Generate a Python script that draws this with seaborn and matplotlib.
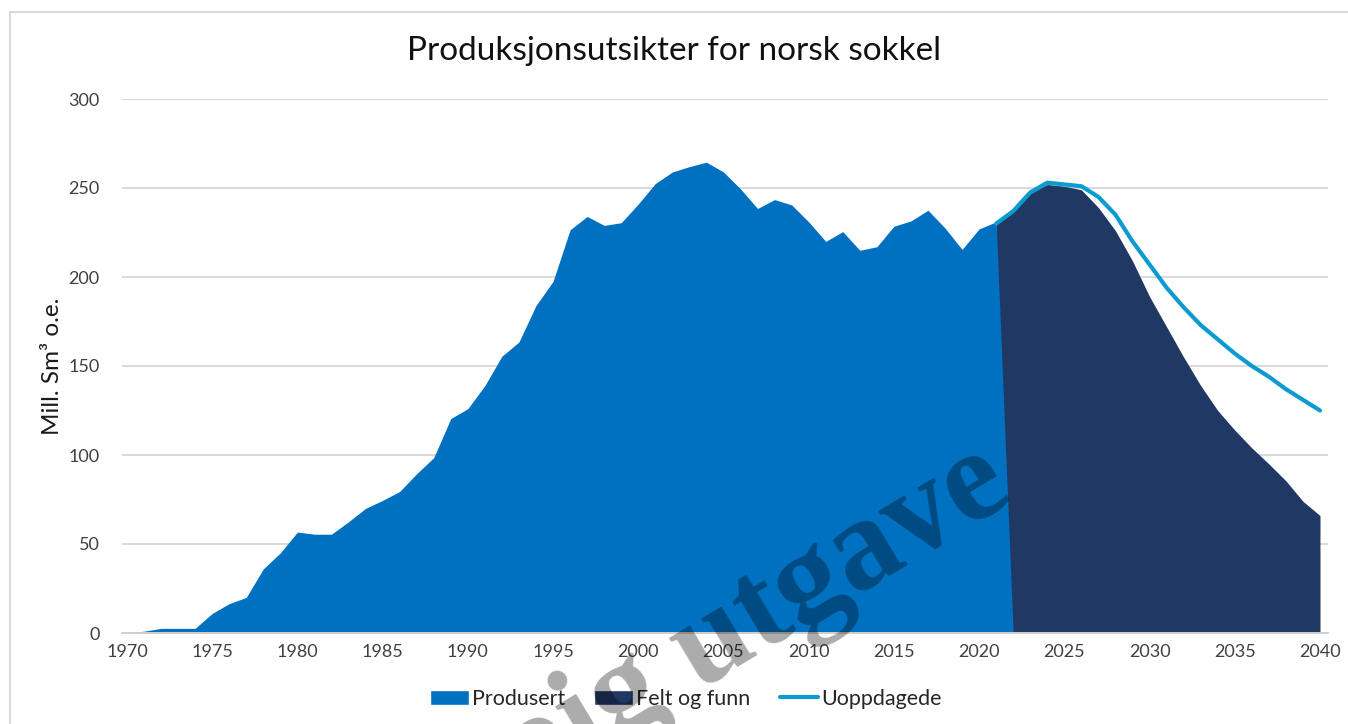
import matplotlib
matplotlib.use("Agg")
import matplotlib.pyplot as plt
from matplotlib.patches import Patch
from matplotlib.lines import Line2D
import numpy as np
import pandas as pd
import seaborn as sns

# data (Mill. Sm3 o.e.)
years_prod = list(range(1970, 2023))
produsert = [0, 1, 2.6, 2.6, 2.6, 11, 16.5, 20, 36, 45,
             56.7, 55.5, 55.5, 62.5, 70, 74.5, 79.5, 89.5, 98.5, 120.5,
             126, 139, 155.5, 163.5, 184, 197.5, 226.5, 234, 229, 230.5,
             241, 252.5, 259, 262, 264.5, 259, 249.5, 238.5, 243.5, 240.5,
             231, 220, 225.5, 215, 217, 228.5, 231.5, 237.5, 227.5, 215.5,
             227, 231, 0]

years_prog = list(range(2021, 2041))
felt_og_funn = [229.5, 237, 247, 252, 251, 249, 239, 226, 209, 189,
                172, 155, 139, 125, 114, 104, 95, 85.5, 74, 66]
uoppdagede = [230, 237, 247.5, 253, 252, 251, 245, 235, 220, 207,
              194, 183, 173, 165, 157, 150, 144, 137, 131, 125]

labels = ["Produsert", "Felt og funn", "Uoppdagede"]
colors = ["#0070c0", "#203864", "#0b9bd0"]

prod_df = pd.DataFrame({"year": years_prod, "value": produsert})
prog_df = pd.DataFrame({"year": years_prog, "felt": felt_og_funn, "uopp": uoppdagede})

sns.set_theme(style="white")
plt.rcParams["font.family"] = ["Lato", "DejaVu Sans"]

fig = plt.figure(figsize=(13.48, 7.24), dpi=100)
ax = fig.add_axes([122 / 1348, 1 - 633 / 724, (1328 - 122) / 1348, (633 - 99) / 724])

# areas: forecast behind, history on top
ax.fill_between(prog_df["year"], 0, prog_df["felt"], color=colors[1], lw=0, zorder=2)
ax.fill_between(prod_df["year"], 0, prod_df["value"], color=colors[0], lw=0, zorder=3)
sns.lineplot(data=prog_df, x="year", y="uopp", ax=ax, color=colors[2], lw=3,
             solid_capstyle="round", zorder=4)

ax.set_xlim(1969.71, 2040.47)
ax.set_ylim(0, 300)
ax.set_xticks(range(1970, 2041, 5))
ax.set_yticks(range(0, 301, 50))
ax.tick_params(axis="both", labelsize=13, colors="#404040", length=0, pad=8)
ax.tick_params(axis="y", pad=16)
ax.grid(axis="y", color="#d9d9d9", lw=1.4, zorder=0)
ax.set_axisbelow(True)
for s in ["top", "right", "left"]:
    ax.spines[s].set_visible(False)
ax.spines["bottom"].set_color("#d0d0d0")
ax.spines["bottom"].set_linewidth(1.4)
ax.spines["bottom"].set_zorder(5)
ax.set_xlabel("")
ax.set_ylabel("Mill. Sm\u00b3 o.e.", fontsize=17.5, color="#1a1a1a", labelpad=4)

fig.text(0.5, 1 - 51 / 724, "Produksjonsutsikter for norsk sokkel", ha="center", va="center",
         fontsize=24, color="#111111")

handles = [Patch(facecolor=colors[0], label=labels[0]),
           Patch(facecolor=colors[1], label=labels[1]),
           Line2D([], [], color=colors[2], lw=3, label=labels[2])]
fig.legend(handles=handles, loc="center", bbox_to_anchor=(0.509, 1 - 699 / 724), ncol=3,
           frameon=False, fontsize=15.5, handlelength=1.8, handleheight=0.7,
           columnspacing=1.35, handletextpad=0.15)

# chart frame
fig.add_artist(Line2D([10 / 1348, 10 / 1348], [0, 1 - 12 / 724], color="#d9d9d9", lw=1.5,
                      transform=fig.transFigure))
fig.add_artist(Line2D([10 / 1348, 1], [1 - 12 / 724, 1 - 12 / 724], color="#d9d9d9", lw=1.5,
                      transform=fig.transFigure))

# draft watermark (cut by the bottom edge, as in the original)
fig.text(598 / 1348, 1 - 714 / 724, "Foreløpig utgave", ha="center", va="center",
         rotation=31, rotation_mode="anchor", fontsize=94, fontweight="bold",
         family="Liberation Serif", color="black", alpha=0.33, zorder=10)

fig.savefig("out.png", dpi=100)
